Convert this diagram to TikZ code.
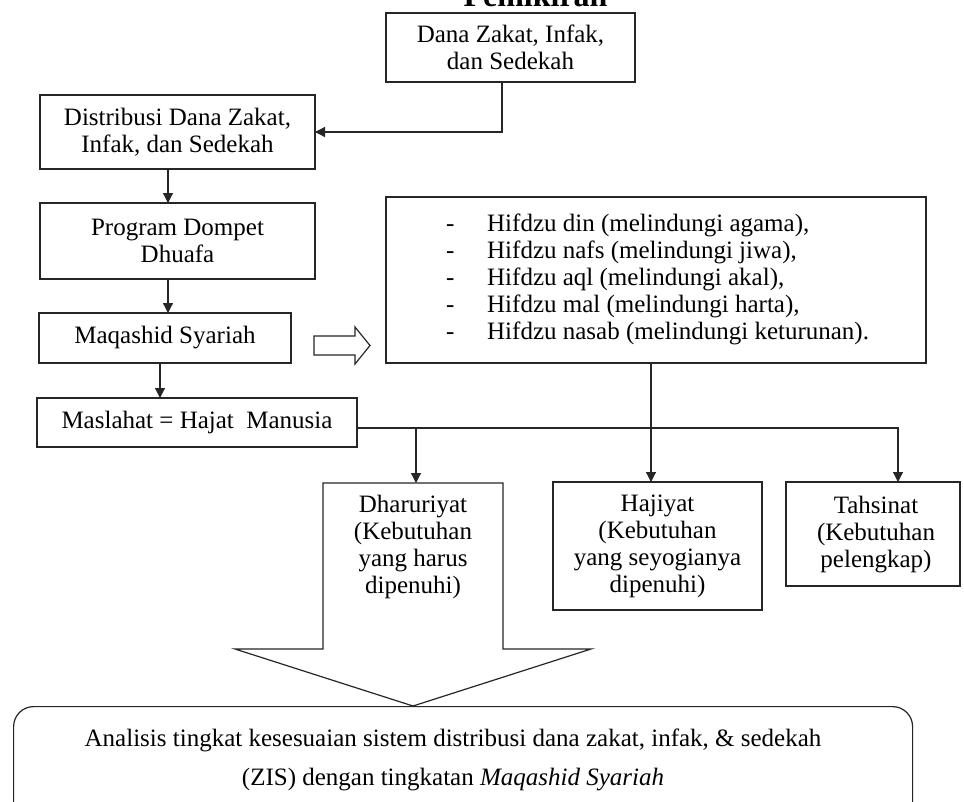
\documentclass[tikz,border=0pt]{standalone}
\usepackage{fontspec}
\setmainfont{Liberation Serif}
\usetikzlibrary{arrows.meta}
\newcommand\fsz{\fontsize{25}{27.5}\selectfont}
\definecolor{linec}{gray}{0.15}
\tikzset{
  box/.style={draw=linec, line width=1.2pt, inner sep=0pt, outer sep=0pt, align=center, font=\fsz},
  txt/.style={inner sep=0pt, align=center, font=\fsz},
  conn/.style={draw=linec, line width=1.2pt},
  arr/.style={conn, -{Triangle[length=10pt,width=10pt]}}
}
\begin{document}
\begin{tikzpicture}[x=1pt,y=-1pt]
\useasboundingbox (0,0) rectangle (964,801);
\fill[white] (0,0) rectangle (964,801);

% title (cut off at top)
\node[inner sep=0pt, anchor=base, font=\fontsize{32}{32}\selectfont\bfseries] (title) at (535.5,6) {Pemikiran};

% boxes
\node[box, minimum width=249pt, minimum height=69pt] (b1) at (510.5,47.5) {Dana Zakat, Infak,\\dan Sedekah};
\node[box, minimum width=275pt, minimum height=74pt] (b2) at (177.5,132) {Distribusi Dana Zakat,\\Infak, dan Sedekah};
\node[box, minimum width=275pt, minimum height=76pt] (b3) at (177.5,241) {Program Dompet\\Dhuafa};
\node[box, minimum width=252pt, minimum height=50pt] (b4) at (165,338) {Maqashid Syariah};
\node[box, minimum width=320pt, minimum height=49pt] (b6) at (197,422.5) {Maslahat = Hajat\ \ Manusia};

\node[box, minimum width=540pt, minimum height=166pt] (hif) at (656,280) {};
\node[inner sep=0pt, align=left, anchor=west, font=\fontsize{25}{27}\selectfont] (hiftext) at (446,279.5)
 {\makebox[41pt][l]{-}Hifdzu din (melindungi agama),\\
  \makebox[41pt][l]{-}Hifdzu nafs (melindungi jiwa),\\
  \makebox[41pt][l]{-}Hifdzu aql (melindungi akal),\\
  \makebox[41pt][l]{-}Hifdzu mal (melindungi harta),\\
  \makebox[41pt][l]{-}Hifdzu nasab (melindungi keturunan).};

% hollow arrow
\draw[conn, fill=white] (314,336) -- (355,336) -- (355,327) -- (370,345.5) -- (355,364) -- (355,355) -- (314,355) -- cycle;

% Dharuriyat block arrow
\draw[conn, line join=miter] (323,483) -- (503,483) -- (503,649) -- (591,649) -- (413,706) -- (235,649) -- (323,649) -- cycle;
\coordinate (dtop) at (416,483);
\node[txt, font=\fontsize{25}{27}\selectfont] (dhar) at (413,547) {Dharuriyat\\(Kebutuhan\\yang harus\\dipenuhi)};

\node[box, minimum width=209pt, minimum height=128pt, font=\fontsize{25}{27}\selectfont] (haj) at (657.5,546) {Hajiyat\\(Kebutuhan\\yang seyogianya\\dipenuhi)};
\node[box, minimum width=174pt, minimum height=104pt] (tah) at (873,534) {};
\node[txt, font=\fontsize{25}{27}\selectfont] (tahtext) at (876,534.5) {Tahsinat\\(Kebutuhan\\pelengkap)};

% bottom rounded box
\node[draw=linec, line width=1.2pt, rounded corners=20pt, minimum width=899pt, minimum height=134pt, inner sep=0pt, anchor=north west] (ana) at (13,706) {};
\node[txt, font=\fontsize{25}{39}\selectfont] (anatext) at (453,760)
 {Analisis tingkat kesesuaian sistem distribusi dana zakat, infak, \& sedekah\\(ZIS) dengan tingkatan \textit{Maqashid Syariah}};

% connectors
\coordinate (j1) at (502,132);
\draw[arr] (b1.south -| j1) -- (j1) -- (b2.east);
\draw[arr] ([xshift=-9.5pt]b2.south) -- ([xshift=-9.5pt]b3.north);
\draw[arr] ([xshift=-9.5pt]b3.south) -- ([xshift=-9.5pt]b3.south |- b4.north);
\draw[arr] ([xshift=-5pt]b4.south) -- ([xshift=-5pt]b4.south |- b6.north);
\coordinate (t1) at (898,428);
\coordinate (d1) at (416,428);
\draw[arr] ([yshift=-5.5pt]b6.east) -- (t1) -- (t1 |- tah.north);
\draw[arr] (d1) -- (dtop);
\draw[arr] ([xshift=-5pt]hif.south) -- ([xshift=-5pt]hif.south |- haj.north);
\end{tikzpicture}
\end{document}
